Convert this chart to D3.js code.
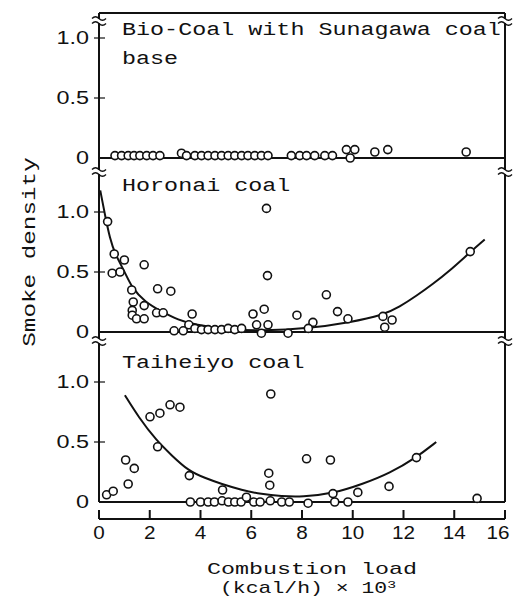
<!DOCTYPE html>
<html lang="en">
<head>
<meta charset="utf-8" />
<title>Smoke density vs combustion load</title>
<script src="https://cdn.jsdelivr.net/npm/d3@7/dist/d3.min.js"></script>
<style>
  html,body{margin:0;background:#fff;}
  svg{display:block;}
  .mono{font-family:"Liberation Mono","DejaVu Sans Mono",monospace;font-size:18px;fill:#111;}
  .num{font-family:"Liberation Sans",Arial,sans-serif;font-size:18px;fill:#111;}
</style>
</head>
<body>
<svg id="chart" width="514" height="611"></svg>
<script>
// ---- data ----
const xTicks = [0, 2, 4, 6, 8, 10, 12, 14, 16];
const yTicks = [0, 0.5, 1.0];
const yTickLabels = ["0", "0.5", "1.0"];

// Bio-Coal with Sunagawa coal base
const bioX = [0.63,0.89,1.15,1.38,1.61,1.88,2.13,2.4,3.25,3.45,3.78,4.04,4.3,4.57,4.83,5.09,5.35,5.62,5.87,6.14,6.4,6.66,7.58,7.91,8.18,8.5,8.9,9.2,9.75,9.9,10.08,10.87,11.38,14.47];
const bioY = [0.02,0.02,0.02,0.02,0.02,0.02,0.02,0.02,0.04,0.02,0.02,0.02,0.02,0.02,0.02,0.02,0.02,0.02,0.02,0.02,0.02,0.02,0.02,0.02,0.02,0.02,0.02,0.02,0.07,0.0,0.07,0.05,0.07,0.05];
const bioCurveX = [0, 16];
const bioCurveY = [0, 0];

// Horonai coal
const horonaiX = [0.34,0.6,1.0,0.52,0.83,1.78,1.29,2.31,2.83,1.35,1.78,1.31,1.31,1.48,1.78,2.27,2.53,3.67,2.96,3.32,3.54,3.78,4.04,4.3,4.57,4.83,5.09,5.35,5.62,6.07,6.51,6.21,6.4,6.66,6.6,6.64,7.8,7.45,8.43,8.25,8.96,9.4,9.81,11.19,11.55,11.26,14.63];
const horonaiY = [0.92,0.65,0.6,0.49,0.5,0.56,0.35,0.36,0.34,0.25,0.22,0.18,0.14,0.11,0.11,0.16,0.16,0.15,0.01,0.01,0.06,0.03,0.02,0.02,0.02,0.02,0.03,0.02,0.03,0.15,0.19,0.06,-0.01,0.06,1.03,0.47,0.14,-0.01,0.08,0.03,0.31,0.17,0.11,0.13,0.1,0.04,0.67];
const horonaiCurveX = [0.05,0.24,0.43,0.63,1.02,1.29,1.81,2.47,3.12,3.78,5.09,6.4,8.3,9.88,11.19,11.85,12.5,13.16,13.82,14.6,15.2];
const horonaiCurveY = [1.18,0.97,0.78,0.65,0.5,0.37,0.25,0.17,0.1,0.06,0.02,0.01,0.03,0.08,0.14,0.21,0.3,0.4,0.51,0.66,0.77];

// Taiheiyo coal
const taiheiyoX = [0.3,0.56,1.15,1.05,1.39,2.01,2.4,2.8,3.19,2.31,3.56,4.87,6.77,6.69,6.73,3.6,4.0,4.3,4.55,4.85,5.1,5.35,5.6,5.81,6.1,6.35,6.75,7.2,7.5,8.18,9.12,8.24,9.22,9.29,9.81,10.2,11.43,12.51,14.9];
const taiheiyoY = [0.06,0.09,0.15,0.35,0.28,0.71,0.74,0.81,0.79,0.46,0.22,0.1,0.9,0.24,0.14,0.0,0.0,0.0,0.0,0.01,0.0,0.0,0.0,0.04,0.0,0.0,0.01,0.0,0.0,0.36,0.35,-0.01,0.07,0.0,0.0,0.08,0.13,0.37,0.03];
const taiheiyoCurveX = [1.02,1.55,2.27,2.86,3.52,4.17,4.83,5.62,6.4,7.19,8.0,9.22,10.4,11.46,12.5,13.29];
const taiheiyoCurveY = [0.89,0.71,0.51,0.39,0.26,0.2,0.15,0.1,0.065,0.048,0.042,0.07,0.15,0.24,0.37,0.5];

// ---- layout ----
const svg = d3.select('#chart');
const left = 99, right = 505, frameTop = 13, pxPerUnit = 120;
const x = d3.scaleLinear().domain([0, 16]).range([left, right]);

const panels = [
  {top: frameTop, zero: 158, title: ["Bio-Coal with Sunagawa coal", "base"], titleY: 35,
   px: bioX, py: bioY, cx: bioCurveX, cy: bioCurveY, breakY: 21},
  {top: 158, zero: 332, title: ["Horonai coal"], titleY: 191,
   px: horonaiX, py: horonaiY, cx: horonaiCurveX, cy: horonaiCurveY, breakY: 172},
  {top: 332, zero: 502, title: ["Taiheiyo coal"], titleY: 368,
   px: taiheiyoX, py: taiheiyoY, cx: taiheiyoCurveX, cy: taiheiyoCurveY, breakY: 341}
];

const ink = '#111';
const sx = 1.3; // glyphs in the scan are stretched horizontally

function label(x0, y0, s, cls, anchor, scaleX){
  return svg.append('text').attr('class', cls)
    .attr('text-anchor', anchor || 'start')
    .attr('transform', `translate(${x0},${y0}) scale(${scaleX || sx},1)`)
    .text(s);
}

// frame: top border and side lines
svg.append('line').attr('x1', left).attr('x2', right).attr('y1', frameTop).attr('y2', frameTop)
  .attr('stroke', ink).attr('stroke-width', 2);
[left, right].forEach(xx => svg.append('line').attr('x1', xx).attr('x2', xx)
  .attr('y1', frameTop).attr('y2', 502).attr('stroke', ink).attr('stroke-width', 2));

const line = d3.line().curve(d3.curveBasis);

panels.forEach(p => {
  const y = d3.scaleLinear().domain([0, 1]).range([p.zero, p.zero - pxPerUnit]);

  // zero line
  svg.append('line').attr('x1', left).attr('x2', right).attr('y1', y(0)).attr('y2', y(0))
    .attr('stroke', ink).attr('stroke-width', 2);

  // y ticks + labels
  yTicks.forEach((t, i) => {
    if (t > 0) svg.append('line').attr('x1', left - 5).attr('x2', left + 6)
      .attr('y1', y(t)).attr('y2', y(t)).attr('stroke', ink).attr('stroke-width', 1.2);
    label(89, y(t) + 6, yTickLabels[i], 'num', 'end', 1.3);
  });

  // fitted curve
  const pts = p.cx.map((v, i) => [x(v), y(p.cy[i])]);
  svg.append('path').attr('d', line(pts)).attr('fill', 'none')
    .attr('stroke', ink).attr('stroke-width', 2);

  // measured points
  svg.append('g').selectAll('circle').data(p.px.map((v, i) => [v, p.py[i]])).join('circle')
    .attr('cx', d => x(d[0])).attr('cy', d => y(d[1])).attr('r', 4)
    .attr('fill', '#fff').attr('stroke', ink).attr('stroke-width', 1.6);

  // title
  p.title.forEach((t, i) => label(122, p.titleY + i * 29, t, 'mono'));

  // axis break marks
  [left, right].forEach(xx => {
    svg.append('rect').attr('x', xx - 3).attr('y', p.breakY - 2).attr('width', 6).attr('height', 4).attr('fill', '#fff');
    [-2.5, 2.5].forEach(dy => svg.append('path')
      .attr('d', `M${xx - 7},${p.breakY + dy} q3.5,-3.5 7,0 t7,0`)
      .attr('fill', 'none').attr('stroke', ink).attr('stroke-width', 1.4));
  });
});

// x axis (separate, below bottom panel)
const axisY = 519;
svg.append('line').attr('x1', left).attr('x2', right).attr('y1', axisY).attr('y2', axisY)
  .attr('stroke', ink).attr('stroke-width', 2);
xTicks.forEach(t => {
  svg.append('line').attr('x1', x(t)).attr('x2', x(t)).attr('y1', axisY).attr('y2', axisY - 9)
    .attr('stroke', ink).attr('stroke-width', 2);
  label(Math.min(x(t), 498), 539, String(t), 'num', 'middle', 1.15);
});

// axis titles
svg.append('text').attr('class', 'mono').attr('text-anchor', 'middle').style('font-size', '16px')
  .attr('transform', 'translate(312,574) scale(1.46,1)').text('Combustion load');
const t2 = svg.append('text').attr('class', 'mono').attr('text-anchor', 'middle').style('font-size', '16px')
  .attr('transform', 'translate(308,593) scale(1.34,1)');
t2.append('tspan').text('(kcal/h) \u00d7 10');
t2.append('tspan').attr('dy', -5).attr('font-size', 11).text('3');

svg.append('text').attr('class', 'mono').attr('text-anchor', 'middle')
  .attr('transform', 'translate(35,252) rotate(-90) scale(1.35,1)')
  .text('Smoke density');
</script>
</body>
</html>
